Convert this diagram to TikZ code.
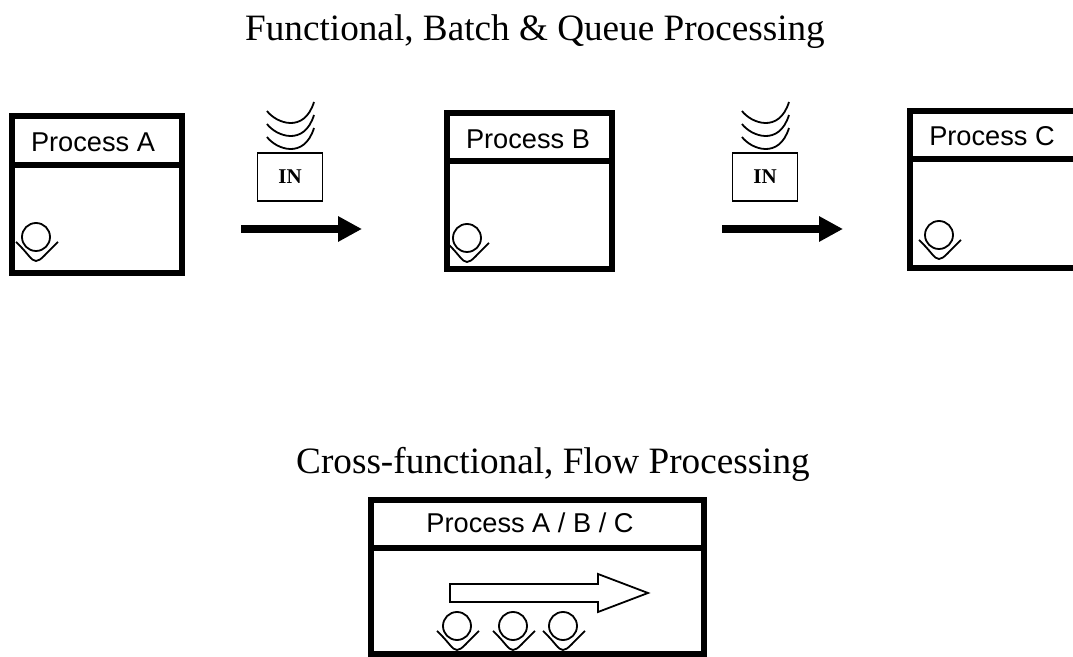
\documentclass[tikz,border=0pt]{standalone}
\usepackage{fontspec}
\setmainfont{Liberation Serif}
\setsansfont{Liberation Sans}
\usetikzlibrary{arrows.meta}
\tikzset{
    frame/.style={line width=3pt},
    thinline/.style={line width=0.9pt},
    titletext/.style={font=\fontsize{18.6}{22}\selectfont},
    headtext/.style={font=\sffamily\fontsize{13.6}{16}\selectfont},
    inbox/.style={draw, thinline, minimum width=32.5pt, minimum height=24pt, inner sep=0pt, font=\bfseries\fontsize{10.5}{12}\selectfont},
    flow/.style={-{Triangle[length=12pt,width=12pt]}, line width=3.75pt},
    person/.pic={
        \draw[thinline] (0,0) circle (14);
        \draw[thinline] (-20,5) .. controls (-8,16) and (-5,24) .. (0,24) .. controls (5,24) and (10,16) .. (22,5);
    }
}
\begin{document}
\begin{tikzpicture}[x=0.5pt, y=-0.5pt]
    \useasboundingbox (0,0) rectangle (1073,657);

    % titles
    \node(top)[titletext] at (535,32) {Functional, Batch \& Queue Processing};
    \node(bottom)[titletext] at (553,464) {Cross-functional, Flow Processing};

    % process boxes
    \draw[frame] (12,116) rectangle (182,273) (12,165)--(182,165);
    \draw[frame] (447,113) rectangle (612,269) (447,161)--(612,161);
    \draw[frame] (1073,111)--(910,111)--(910,268)--(1073,268) (910,159)--(1073,159);
    \draw[frame] (371,500) rectangle (704,654) (371,548)--(704,548);
    \node(a)[headtext] at (93,142) {Process A};
    \node(b)[headtext] at (528,139) {Process B};
    \node(c)[headtext] at (992,136) {Process C};
    \node(abc)[headtext] at (530,523) {Process A / B / C};

    % queues
    \foreach \x/\n in {290/ina,765/inb}
    {\node(\n)[inbox] at (\x,177) {IN};
    \foreach \y in {0,13,26}
    {\draw[thinline] (\x-23,111+\y) .. controls (\x-14,123+\y) and (\x+14,134+\y) .. (\x+24,102+\y);}}

    % flow arrows
    \coordinate(s1) at (241,229);
    \coordinate(e1) at (362,229);
    \coordinate(s2) at (722,229);
    \coordinate(e2) at (843,229);
    \draw[flow] (s1)--(e1);
    \draw[flow] (s2)--(e2);

    % people
    \foreach \x/\y in {36/237,467/238,939/235,457/626,513/626,563/626}
    {\pic at (\x,\y) {person};}

    % big hollow arrow
    \draw[thinline] (450,584)--(598,584)--(598,574)--(648,593)--(598,612)--(598,602)--(450,602)--cycle;
\end{tikzpicture}
\end{document}
